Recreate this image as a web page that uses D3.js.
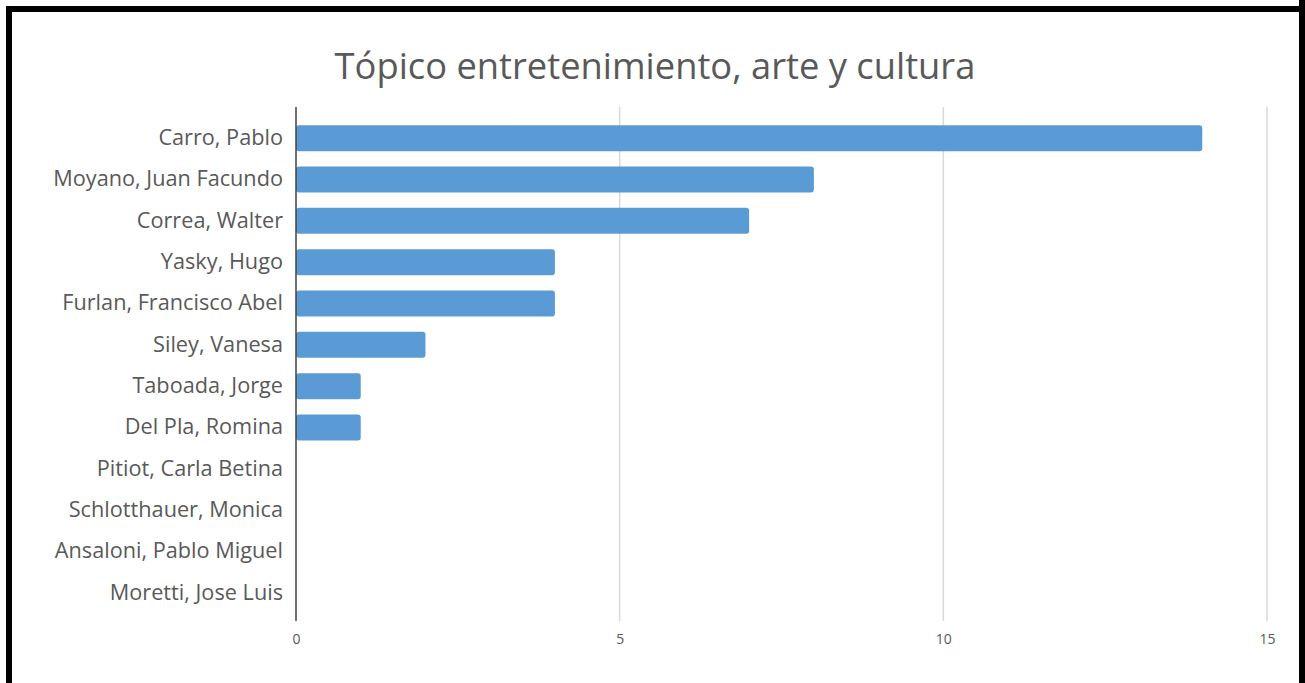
<!DOCTYPE html>
<html><head><meta charset="utf-8">
<script src="https://cdn.jsdelivr.net/npm/d3@7"></script>
<style>html,body{margin:0;padding:0;background:#fff;}</style>
</head><body>
<svg id="c" width="1305" height="683"></svg>
<script>
const categories = ["Carro, Pablo","Moyano, Juan Facundo","Correa, Walter","Yasky, Hugo","Furlan, Francisco Abel","Siley, Vanesa","Taboada, Jorge","Del Pla, Romina","Pitiot, Carla Betina","Schlotthauer, Monica","Ansaloni, Pablo Miguel","Moretti, Jose Luis"];
const values = [14, 8, 7, 4, 4, 2, 1, 1, 0, 0, 0, 0];
const xTicks = [0, 5, 10, 15];
const title = "Tópico entretenimiento, arte y cultura";

const svg = d3.select("#c");
const font = "'Open Sans', sans-serif";
// frame
svg.append("rect").attr("x",9).attr("y",9).attr("width",1305).attr("height",700)
  .attr("fill","none").attr("stroke","#000").attr("stroke-width",6);
svg.append("rect").attr("x",1299).attr("y",0).attr("width",6).attr("height",683).attr("fill","#000");

const x = d3.scaleLinear().domain([0,15]).range([296,1267]);
const y = d3.scaleBand().domain(categories).range([117.5,613.5]).paddingInner(0.37).paddingOuter(0.185);

// grid
svg.append("g").selectAll("line").data(xTicks.filter(d=>d>0)).join("line")
  .attr("x1",d=>x(d)).attr("x2",d=>x(d)).attr("y1",107).attr("y2",621)
  .attr("stroke","#d9d9d9").attr("stroke-width",1.5);

// bars
const data = values.map((v,i)=>({c:categories[i],v})).filter(d=>d.v>0);
svg.append("g").selectAll("rect").data(data).join("rect")
  .attr("x",x(0)).attr("y",d=>y(d.c)).attr("width",d=>x(d.v)-x(0))
  .attr("height",y.bandwidth()).attr("rx",3).attr("fill","#5b9bd5");

// y axis
const ya = svg.append("g").attr("transform",`translate(${x(0)},0)`)
  .call(d3.axisLeft(y).tickSize(0).tickPadding(13));
ya.select(".domain").attr("d",`M0,107V621`).attr("stroke","#404040").attr("stroke-width",1.5);
ya.selectAll("text").attr("font-family",font).attr("font-size",21.7).attr("fill","#595959");

// x axis labels
const xa = svg.append("g").attr("transform",`translate(0,621)`)
  .call(d3.axisBottom(x).tickValues(xTicks).tickSize(0).tickPadding(13));
xa.select(".domain").remove();
xa.selectAll("text").attr("font-family",font).attr("font-size",14).attr("fill","#595959");

svg.append("text").attr("x",655).attr("y",79).attr("text-anchor","middle")
  .attr("font-family",font).attr("font-size",36.3).attr("fill","#595959").text(title);
</script>
</body></html>
